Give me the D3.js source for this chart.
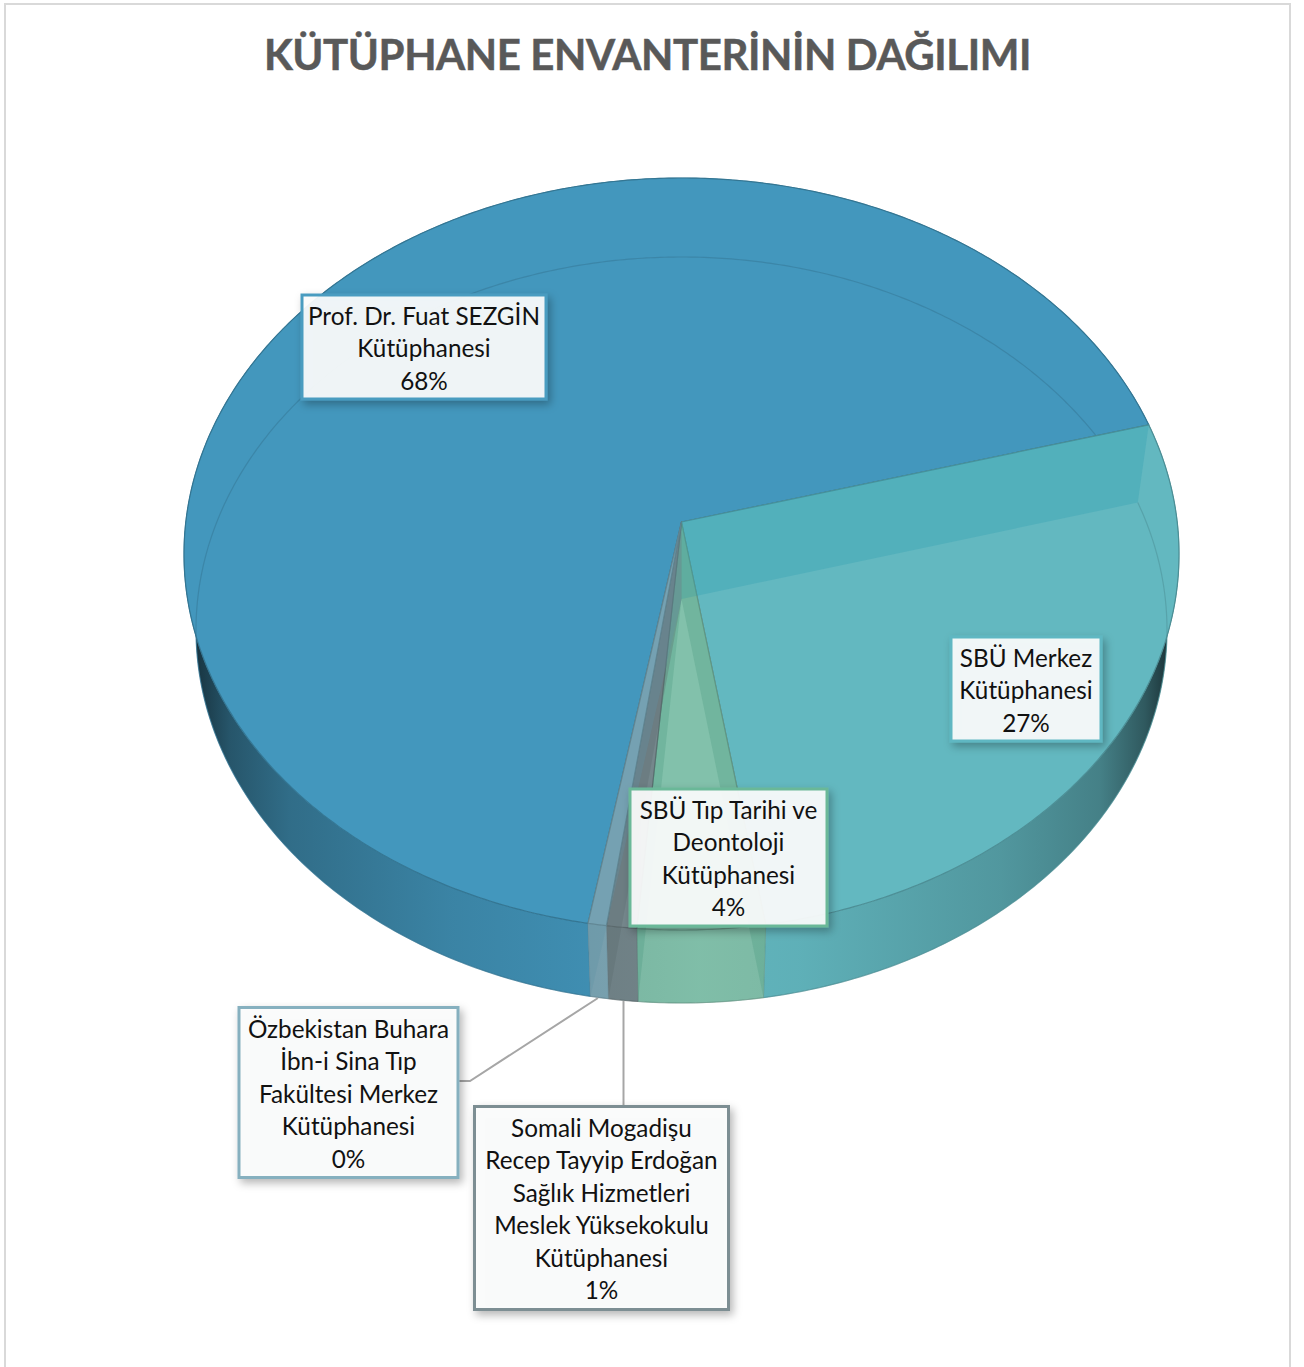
<!DOCTYPE html>
<html>
<head>
<meta charset="utf-8">
<script src="https://cdn.jsdelivr.net/npm/d3@7"></script>
<style>
  html, body { margin: 0; padding: 0; background: #fff; overflow: hidden; }
  text { font-family: Lato, "Open Sans", sans-serif; }
  .title { font-size: 42px; font-weight: 700; letter-spacing: -0.42px; fill: #595959; stroke: #595959; stroke-width: 0.5; text-anchor: middle; }
  .label { font-size: 24.3px; fill: #111; text-anchor: middle; }
</style>
</head>
<body>
<svg id="PieVis" width="1304" height="1367"></svg>
<script>
const width = 1304;
const height = 1367;

/* DATA */
const titleText = "KÜTÜPHANE ENVANTERİNİN DAĞILIMI";
const categories = [
  "Prof. Dr. Fuat SEZGİN Kütüphanesi",
  "SBÜ Merkez Kütüphanesi",
  "SBÜ Tıp Tarihi ve Deontoloji Kütüphanesi",
  "Somali Mogadişu Recep Tayyip Erdoğan Sağlık Hizmetleri Meslek Yüksekokulu Kütüphanesi",
  "Özbekistan Buhara İbn-i Sina Tıp Fakültesi Merkez Kütüphanesi"
];
const values = [67.95, 26.8, 3.8, 0.9, 0.55];
const percentLabels = ["68%", "27%", "4%", "1%", "0%"];
const labelLines = [
  ["Prof. Dr. Fuat SEZGİN", "Kütüphanesi"],
  ["SBÜ Merkez", "Kütüphanesi"],
  ["SBÜ Tıp Tarihi ve", "Deontoloji", "Kütüphanesi"],
  ["Somali Mogadişu", "Recep Tayyip Erdoğan", "Sağlık Hizmetleri", "Meslek Yüksekokulu", "Kütüphanesi"],
  ["Özbekistan Buhara", "İbn-i Sina Tıp", "Fakültesi Merkez", "Kütüphanesi"]
];

/* SCALES */
const fill = d3.scaleOrdinal().domain(categories)
  .range(["#4397bd", "#63b8c0", "#82c1ab", "#75878c", "#7fa9b8"]);
const wallTint = d3.scaleOrdinal().domain(categories)
  .range(["#2f85a8", "#2fa0b0", "#4f9c82", "#5a6a6e", "#5f93a5"]);
const border = d3.scaleOrdinal().domain(categories)
  .range(["#4a9cc0", "#5fb7c2", "#6ab898", "#7d8e93", "#86b0bf"]);

/* the two faces of the disc, seen in perspective */
const topFace = { cx: 681.5, cy: 554, a: 497.5, b: 376, shift: -32 };
const bottomFace = { cx: 681.5, cy: 630, a: 485.5, b: 373, shift: -31 };

const startAngle = 189.95 * Math.PI / 180;
const pie = d3.pie().sort(null).startAngle(startAngle).endAngle(startAngle + 2 * Math.PI);
const arcs = pie(values).map((d, i) => ({ ...d, name: categories[i] }));

/* label boxes and their leader lines */
const boxes = [
  { x: 302, y: 295, w: 244, h: 104 },
  { x: 951, y: 637, w: 150, h: 104 },
  { x: 630, y: 789, w: 197, h: 137 },
  { x: 474.5, y: 1106.5, w: 254, h: 203 },
  { x: 239, y: 1007.5, w: 219, h: 170 }
];
const leaders = [
  [[623.5, 1001], [623.5, 1106]],
  [[598, 998], [470, 1081], [459, 1081]]
];

const svg = d3.select("#PieVis");
const line = d3.line();
const defs = svg.append("defs");

defs.append("filter").attr("id", "shadow")
  .attr("x", "-10%").attr("y", "-10%").attr("width", "130%").attr("height", "130%")
  .append("feDropShadow")
  .attr("dx", 3).attr("dy", 4).attr("stdDeviation", 4.5)
  .attr("flood-color", "#000").attr("flood-opacity", 0.3);

// side wall gets dark towards both ends of the disc
const wallStops = [
  [184, 0.92], [200, 0.72], [230, 0.5], [290, 0.32], [450, 0.15], [590, 0.07],
  [700, 0.02], [800, 0.05], [1000, 0.2], [1100, 0.34], [1145, 0.58], [1179, 0.9]
];
const wallX = d3.scaleLinear().domain([184, 1179]).range([0, 100]);
defs.append("linearGradient").attr("id", "wallShade")
  .attr("gradientUnits", "userSpaceOnUse")
  .attr("x1", 184).attr("x2", 1179).attr("y1", 0).attr("y2", 0)
  .selectAll("stop").data(wallStops).enter().append("stop")
  .attr("offset", d => wallX(d[0]) + "%")
  .attr("stop-color", "#0a1418")
  .attr("stop-opacity", d => d[1]);

/* FRAME */
svg.append("rect")
  .attr("x", 5).attr("y", 4)
  .attr("width", 1285).attr("height", 1380)
  .attr("fill", "#fff").attr("stroke", "#d9d9d9").attr("stroke-width", 2);

/* TITLE */
svg.append("text").attr("class", "title")
  .attr("x", 647.5).attr("y", 69.5)
  .text(titleText);

drawWalls();
drawFaces();
drawCutWalls();
drawLeaders();
drawLabels();

/* outer side of the disc, between the two rims */
function drawWalls() {
  const walls = svg.append("g").attr("id", "walls");
  arcs.forEach(d => {
    const outline = rimPoints(topFace, d.startAngle, d.endAngle)
      .concat(rimPoints(bottomFace, d.startAngle, d.endAngle).reverse());
    walls.append("path").attr("d", line(outline) + "Z").attr("fill", fill(d.name));
    walls.append("path").attr("d", line(outline) + "Z")
      .attr("fill", "url(#wallShade)")
      .attr("stroke", d3.color(fill(d.name)).darker(0.6))
      .attr("stroke-width", 0.8)
      .attr("stroke-opacity", 0.7);
  });
}

/*
 * Top of each slice. Each slice also draws its part of the bottom rim, which shows
 * through the top; the next slice covers whatever runs out of the one before it.
 */
function drawFaces() {
  const faces = svg.append("g").attr("id", "faces");
  arcs.forEach(d => {
    const outline = [project(topFace, null)].concat(rimPoints(topFace, d.startAngle, d.endAngle));
    faces.append("path")
      .attr("d", line(outline) + "Z")
      .attr("fill", fill(d.name))
      .attr("stroke", d3.color(fill(d.name)).darker(0.7))
      .attr("stroke-width", 1.2)
      .attr("stroke-linejoin", "round");
    faces.append("path")
      .attr("d", line(rimPoints(bottomFace, d.startAngle, d.endAngle)))
      .attr("fill", "none")
      .attr("stroke", d3.color(fill(d.name)).darker(0.8))
      .attr("stroke-opacity", 0.45)
      .attr("stroke-width", 1.2);
  });
}

/* the cut sides of the slices show through the top */
function drawCutWalls() {
  const cuts = svg.append("g").attr("id", "cut-walls");
  arcs.forEach(d => {
    const edges = [];
    if (Math.sin(d.startAngle) > 0) edges.push(d.startAngle);
    if (Math.sin(d.endAngle) < 0) edges.push(d.endAngle);
    edges.forEach(a => {
      const quad = [project(topFace, null), project(topFace, a), project(bottomFace, a), project(bottomFace, null)];
      cuts.append("path")
        .attr("d", line(quad) + "Z")
        .attr("fill", wallTint(d.name))
        .attr("fill-opacity", 0.32);
    });
  });
}

/* LEADER LINES */
function drawLeaders() {
  svg.append("g").attr("id", "leaders").selectAll("path")
    .data(leaders).enter().append("path")
    .attr("d", d => line(d))
    .attr("fill", "none")
    .attr("stroke", "#a6a6a6")
    .attr("stroke-width", 2);
}

/* LABELS */
function drawLabels() {
  const lineHeight = 32.5;
  const groups = svg.append("g").attr("id", "labels").selectAll("g")
    .data(categories).enter().append("g")
    .attr("transform", (d, i) => translate(boxes[i].x, boxes[i].y));

  groups.append("rect")
    .attr("width", (d, i) => boxes[i].w)
    .attr("height", (d, i) => boxes[i].h)
    .attr("fill", "#fcfdfd").attr("fill-opacity", 0.92)
    .attr("stroke", d => border(d))
    .attr("stroke-width", 3)
    .attr("filter", "url(#shadow)");

  groups.each(function(d, i) {
    const rows = labelLines[i].concat(percentLabels[i]);
    const firstBaseline = (boxes[i].h - lineHeight * (rows.length - 1)) / 2 + 10;
    d3.select(this).selectAll("text")
      .data(rows).enter().append("text")
      .attr("class", "label")
      .attr("x", boxes[i].w / 2)
      .attr("y", (t, j) => firstBaseline + j * lineHeight)
      .text(t => t);
  });
}

/*
 * Projects a point of the disc rim onto one face. Angle runs clockwise from the top,
 * a null angle gives the middle of the disc, which sits above the middle of the ellipse.
 */
function project(face, angle) {
  const u = angle === null ? 0 : Math.sin(angle);
  const v = angle === null ? 0 : -Math.cos(angle);
  const k = face.shift / face.b;
  const w = 1 + k * v;
  return [
    face.cx + face.a * Math.sqrt(1 - k * k) * u / w,
    face.cy + face.b * (v + k) / w
  ];
}

function rimPoints(face, a0, a1) {
  const steps = Math.max(2, Math.ceil((a1 - a0) / 0.01));
  return d3.range(steps + 1).map(i => project(face, a0 + (a1 - a0) * i / steps));
}

function translate(x, y) {
  return "translate(" + String(x) + "," + String(y) + ")";
}
</script>
</body>
</html>
